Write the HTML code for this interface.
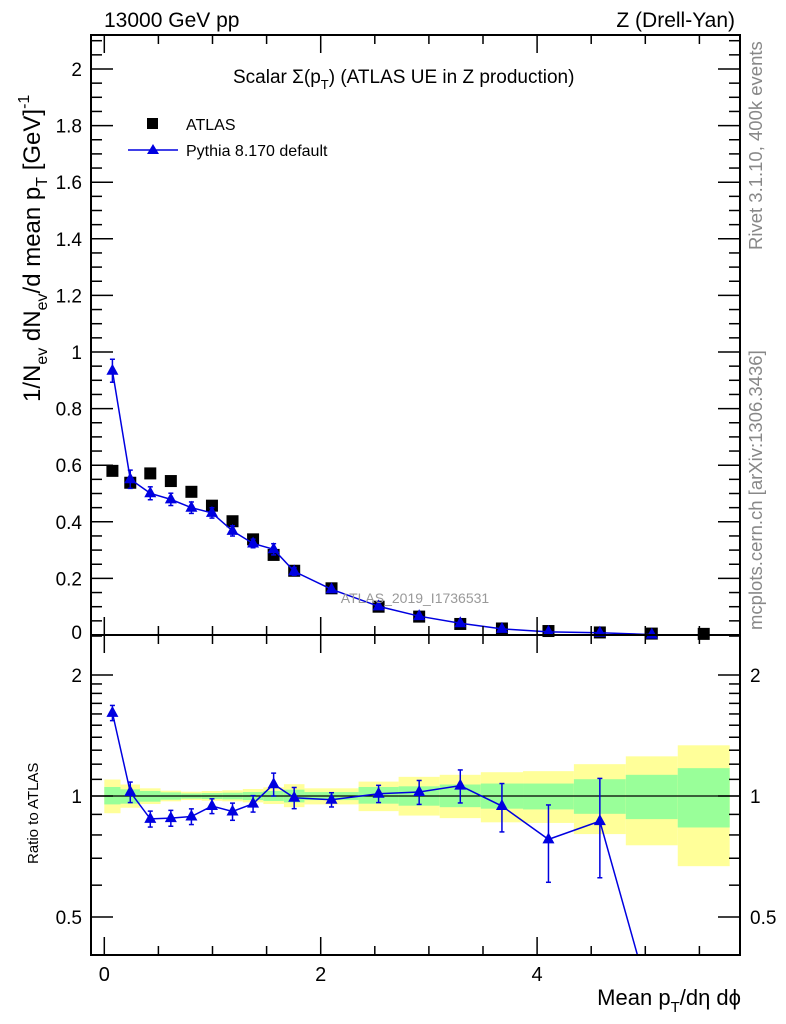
<!DOCTYPE html>
<html><head><meta charset="utf-8"><style>
html,body{margin:0;padding:0;background:#fff;}
svg{display:block;font-family:"Liberation Sans",sans-serif;}
</style></head><body>
<svg id="c" width="786" height="1024" viewBox="0 0 786 1024" xmlns="http://www.w3.org/2000/svg">
<g id="bands"></g>
<g id="marks"></g>
<g id="axes"></g>
<text x="104" y="27" font-size="21">13000 GeV pp</text>
<text x="735" y="27" font-size="21" text-anchor="end">Z (Drell-Yan)</text>
<text x="233" y="83" font-size="19">Scalar Σ(p<tspan font-size="13" dy="6">T</tspan><tspan dy="-6">) (ATLAS UE in Z production)</tspan></text>
<g>
<rect x="147" y="118" width="11" height="11" fill="#000"/>
<text x="186" y="130" font-size="16">ATLAS</text>
<line x1="128" y1="150" x2="178" y2="150" stroke="#0000e0" stroke-width="1.5"/>
<polygon points="153,144 147,154 159,154" fill="#0000e0"/>
<text x="186" y="156" font-size="16">Pythia 8.170 default</text>
</g>
<text x="415" y="603" font-size="14" fill="#999" text-anchor="middle">ATLAS_2019_I1736531</text>
<text transform="translate(762,250) rotate(-90)" font-size="18.5" fill="#888">Rivet 3.1.10,  400k events</text>
<text transform="translate(762,630) rotate(-90)" font-size="18.5" fill="#888">mcplots.cern.ch [arXiv:1306.3436]</text>
<text transform="translate(40,402) rotate(-90)" font-size="24">1/N<tspan font-size="16" dy="7">ev</tspan><tspan dy="-7"> dN</tspan><tspan font-size="16" dy="7">ev</tspan><tspan dy="-7">/d mean p</tspan><tspan font-size="16" dy="7">T</tspan><tspan dy="-7">  [GeV]</tspan><tspan font-size="16" dy="-11">-1</tspan></text>
<text transform="translate(38,864) rotate(-90)" font-size="15">Ratio to ATLAS</text>
<text x="741" y="1005" font-size="22" text-anchor="end">Mean p<tspan font-size="15" dy="7">T</tspan><tspan dy="-7">/dη dϕ</tspan></text>
</svg>
<script>
const edges=[0,0.15,0.33,0.52,0.71,0.9,1.09,1.28,1.47,1.66,1.85,2.35,2.72,3.1,3.48,3.87,4.34,4.82,5.3,5.78];
const atlas=[0.58,0.538,0.571,0.544,0.506,0.457,0.402,0.338,0.283,0.227,0.165,0.1,0.065,0.039,0.023,0.014,0.009,0.005,0.004];
const ratio=[1.61,1.023,0.877,0.881,0.889,0.944,0.915,0.957,1.07,0.99,0.979,1.013,1.023,1.061,0.944,0.78,0.866,0.30,null];
const ratioErr=[0.07,0.06,0.04,0.04,0.04,0.04,0.045,0.045,0.07,0.06,0.04,0.05,0.07,0.1,0.13,0.17,0.24,0,0];
const yelHi=[1.099,1.068,1.045,1.031,1.025,1.029,1.033,1.041,1.051,1.07,1.045,1.086,1.116,1.129,1.146,1.153,1.2,1.255,1.337];
const yelLo=[0.906,0.935,0.955,0.97,0.977,0.973,0.97,0.964,0.955,0.938,0.953,0.917,0.894,0.881,0.86,0.857,0.804,0.754,0.669];
const grnHi=[1.053,1.039,1.029,1.021,1.015,1.017,1.019,1.023,1.029,1.037,1.023,1.053,1.057,1.068,1.074,1.074,1.101,1.129,1.173];
const grnLo=[0.953,0.957,0.968,0.979,0.985,0.983,0.981,0.977,0.972,0.964,0.977,0.957,0.946,0.938,0.93,0.926,0.903,0.876,0.835];
const xTicks=[0,2,4];
const yTicks=[0,0.2,0.4,0.6,0.8,1,1.2,1.4,1.6,1.8,2];
const rTicks=[0.5,1,2];

const L=91,R=740,T=35,M=635,B=955;
const X=v=>104.3+v*108.2;
const Y=v=>M-v*283;
const RY=v=>796-121*Math.log2(v);
const NS="http://www.w3.org/2000/svg";
function mk(p,tag,a){const e=document.createElementNS(NS,tag);for(const k in a)e.setAttribute(k,a[k]);p.appendChild(e);return e;}
const bands=document.getElementById('bands'),marks=document.getElementById('marks'),axes=document.getElementById('axes');
const svg=document.getElementById('c');
const cp=mk(svg,'clipPath',{id:'rc'});mk(cp,'rect',{x:L,y:M,width:R-L,height:B-M});
const cm=mk(svg,'clipPath',{id:'mc'});mk(cm,'rect',{x:L,y:T,width:R-L,height:M-T+6});
const rg=mk(marks,'g',{'clip-path':'url(#rc)'});
const mg=mk(marks,'g',{'clip-path':'url(#mc)'});
for(let i=0;i<atlas.length;i++){
 const x0=X(edges[i]),x1=X(edges[i+1]);
 let r=mk(bands,'rect',{x:x0,y:RY(yelHi[i]),width:x1-x0,height:RY(yelLo[i])-RY(yelHi[i]),fill:'#ffff99'});
 
 
 let g=mk(bands,'rect',{x:x0,y:RY(grnHi[i]),width:x1-x0,height:RY(grnLo[i])-RY(grnHi[i]),fill:'#99ff99'});
 
 
}
mk(bands,'line',{x1:L,x2:R,y1:RY(1),y2:RY(1),stroke:'#000','stroke-width':1.3});
const xc=i=>(edges[i]+edges[i+1])/2;
const blue='#0000e0';
function tri(p,x,y){return mk(p,'polygon',{points:`${x},${y-7} ${x-6},${y+4} ${x+6},${y+4}`,fill:blue});}
function ebar(p,x,y1,y2){mk(p,'line',{x1:x,x2:x,y1:y1,y2:y2,stroke:blue,'stroke-width':1.5});
 mk(p,'line',{x1:x-2.5,x2:x+2.5,y1:y1,y2:y1,stroke:blue,'stroke-width':1.5});mk(p,'line',{x1:x-2.5,x2:x+2.5,y1:y2,y2:y2,stroke:blue,'stroke-width':1.5});}
let pts=[],rpts=[];
for(let i=0;i<atlas.length;i++){
 const s=mk(mg,'rect',{x:X(xc(i))-6,y:Y(atlas[i])-6,width:12,height:12,fill:'#000'});
 
 
 if(ratio[i]!=null){pts.push(X(xc(i))+','+Y(atlas[i]*ratio[i]));rpts.push(X(xc(i))+','+RY(ratio[i]));}
}
mk(mg,'polyline',{points:pts.join(' '),fill:'none',stroke:blue,'stroke-width':1.5});
mk(rg,'polyline',{points:rpts.join(' '),fill:'none',stroke:blue,'stroke-width':1.5});
for(let i=0;i<atlas.length;i++){
 if(ratio[i]==null)continue;
 const x=X(xc(i)),p=atlas[i]*ratio[i];
 if(ratioErr[i]>0){ebar(mg,x,Y(p+atlas[i]*ratioErr[i]),Y(p-atlas[i]*ratioErr[i]));ebar(rg,x,RY(ratio[i]+ratioErr[i]),RY(ratio[i]-ratioErr[i]));}
 const t=tri(mg,x,Y(p));
 
 
 const t2=tri(rg,x,RY(ratio[i]));
 
 
}
mk(axes,'rect',{x:L,y:T,width:R-L,height:B-T,fill:'none',stroke:'#000','stroke-width':2});
mk(axes,'line',{x1:L,x2:R,y1:M,y2:M,stroke:'#000','stroke-width':2});
const tk=(x1,y1,x2,y2)=>mk(axes,'line',{x1,y1,x2,y2,stroke:'#000','stroke-width':1.5});
for(let v=0;v<=5.5;v+=0.5){const x=X(v),maj=Math.abs(v%2)<1e-6,l=maj?18:9;
 [[T,1],[M,-1],[M,1],[B,-1]].forEach(([y,d])=>tk(x,y,x,y+d*l));}
xTicks.forEach(v=>{const t=mk(axes,'text',{x:X(v),y:981,'font-size':20,'text-anchor':'middle'});t.textContent=v;
 });
for(let k=0;k<=42;k++){const v=k*0.05,y=Y(v);if(y<T)break;const maj=k%4==0,l=maj?22:11;tk(L,y,L+l,y);tk(R,y,R-l,y);}
yTicks.forEach(v=>{const t=mk(axes,'text',{x:82,y:v==0?Y(v)+4:Y(v)+7,'font-size':19,'text-anchor':'end'});t.textContent=String(v);
 });
[0.4,0.5,0.6,0.7,0.8,0.9,1,1.1,1.2,1.3,1.4,1.5,1.6,1.7,1.8,1.9,2,2.5].forEach(v=>{const y=RY(v);if(y<M||y>B)return;const maj=rTicks.includes(v),l=maj?22:11;tk(L,y,L+l,y);tk(R,y,R-l,y);});
rTicks.forEach(v=>{const t=mk(axes,'text',{x:82,y:RY(v)+7,'font-size':19,'text-anchor':'end'});t.textContent=String(v);
 
 const t2=mk(axes,'text',{x:750,y:RY(v)+7,'font-size':19});t2.textContent=String(v);
 });
</script>
</body></html>
